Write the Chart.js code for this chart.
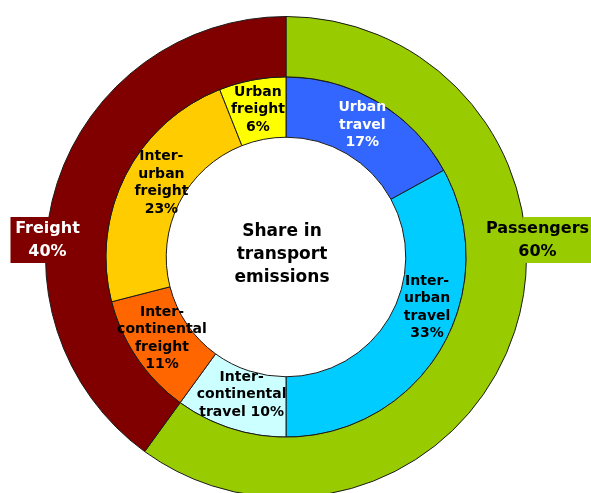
<!DOCTYPE html>
<html>
<head>
<meta charset="utf-8">
<script src="https://cdn.jsdelivr.net/npm/chart.js@4"></script>
<style>
  html, body { margin: 0; padding: 0; background: #fff; overflow: hidden; }
  #wrap { position: relative; width: 591px; height: 500px; }
</style>
</head>
<body>
<div id="wrap"><canvas id="emissions_Chart"></canvas></div>
<script>
// outer ring: passengers vs freight
const groupLabels = ['Passengers', 'Freight'];
const groupShares = [60, 40];
const groupColors = ['#99cc00', '#800000'];
const groupTextColors = ['#000000', '#ffffff'];

// inner ring: breakdown ({v} is replaced by the value)
const segmentLabels = [
    'Urban\ntravel\n{v}%',
    'Inter-\nurban\ntravel\n{v}%',
    'Inter-\ncontinental\ntravel {v}%',
    'Inter-\ncontinental\nfreight\n{v}%',
    'Inter-\nurban\nfreight\n{v}%',
    'Urban\nfreight\n{v}%'
];
const segmentShares = [17, 33, 10, 11, 23, 6];
const segmentColors = ['#3366ff', '#00ccff', '#ccffff', '#ff6600', '#ffcc00', '#ffff00'];
const segmentTextColors = ['#ffffff', '#000000', '#000000', '#000000', '#000000', '#000000'];
const labelNudge = [[0, -3], [12, -26], [2, -5], [0, -3], [9, -6], [0, 0]];

const centerTitle = ['Share in', 'transport', 'emissions'];

const FONT = '"DejaVu Sans", Verdana, sans-serif';

const labelPlugin = {
    id: 'ringLabels',
    afterDatasetsDraw(chart) {
        const c = chart.ctx;
        const outerMeta = chart.getDatasetMeta(0);
        const innerMeta = chart.getDatasetMeta(1);
        c.save();
        c.textAlign = 'center';
        c.textBaseline = 'middle';

        // inner segment labels
        c.font = 'bold 14px ' + FONT;
        innerMeta.data.forEach(function(arc, i) {
            const p = arc.getProps(['x', 'y', 'startAngle', 'endAngle', 'innerRadius', 'outerRadius'], true);
            const mid = (p.startAngle + p.endAngle) / 2;
            const r = (p.innerRadius + p.outerRadius) / 2;
            const x = p.x + Math.cos(mid) * r + labelNudge[i][0];
            const y = p.y + Math.sin(mid) * r + labelNudge[i][1];
            const lines = segmentLabels[i].replace('{v}', segmentShares[i]).split('\n');
            const lh = 17.5;
            c.fillStyle = segmentTextColors[i];
            lines.forEach(function(line, k) {
                c.fillText(line, x, y + (k - (lines.length - 1) / 2) * lh);
            });
        });

        // centre title
        const a0 = outerMeta.data[0].getProps(['x', 'y', 'outerRadius'], true);
        c.fillStyle = '#000';
        c.font = 'bold 17px ' + FONT;
        centerTitle.forEach(function(line, k) {
            c.fillText(line, a0.x - 4, a0.y + (k - 1) * 23 - 2);
        });

        // outer group boxes
        const R = a0.outerRadius;
        const boxTop = a0.y - 40, boxH = 46;
        c.font = 'bold 16px ' + FONT;
        // freight on the left
        c.fillStyle = groupColors[1];
        c.fillRect(a0.x - R - 35, boxTop, 80, boxH);
        c.fillStyle = groupTextColors[1];
        c.fillText(groupLabels[1], a0.x - R + 2, boxTop + 12);
        c.fillText(groupShares[1] + '%', a0.x - R + 2, boxTop + 35);
        // passengers on the right
        c.fillStyle = groupColors[0];
        c.fillRect(a0.x + R - 4, boxTop, 100, boxH);
        c.fillStyle = groupTextColors[0];
        c.fillText(groupLabels[0], a0.x + R + 11, boxTop + 12);
        c.fillText(groupShares[0] + '%', a0.x + R + 11, boxTop + 35);
        c.restore();
    }
};

document.addEventListener("DOMContentLoaded", function() {
    const ctx = document.getElementById('emissions_Chart').getContext('2d');
    const emissions_Chart = new Chart(ctx, {
        type: 'doughnut',
        data: {
            labels: segmentLabels,
            datasets: [
                {
                    label: 'Groups',
                    data: groupShares,
                    backgroundColor: groupColors,
                    borderColor: '#1a1a1a',
                    borderWidth: 1
                },
                {
                    label: 'Segments',
                    data: segmentShares,
                    backgroundColor: segmentColors,
                    borderColor: '#1a1a1a',
                    borderWidth: 1
                }
            ]
        },
        options: {
            responsive: true,
            maintainAspectRatio: false,
            animation: false,
            cutout: '49.8%',
            layout: {
                padding: { left: 45, right: 64, top: 16, bottom: 2 }
            },
            plugins: {
                legend: { display: false },
                tooltip: { enabled: false }
            }
        },
        plugins: [labelPlugin]
    });
});
</script>
</body>
</html>
